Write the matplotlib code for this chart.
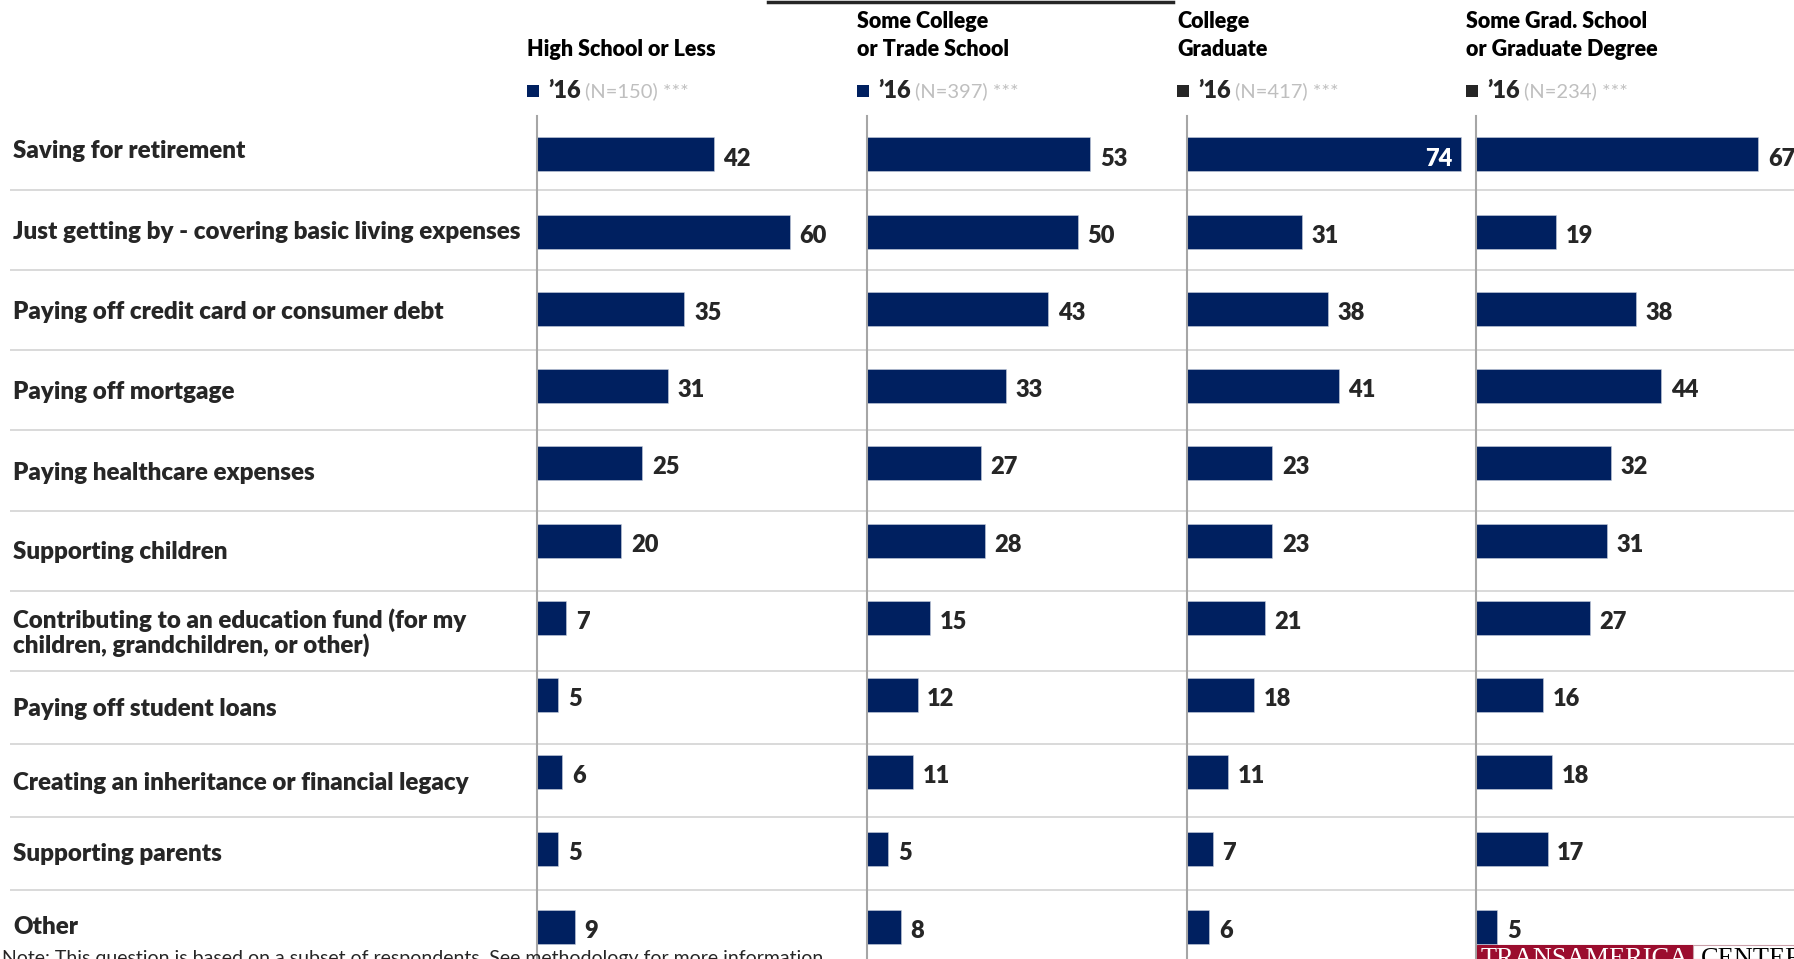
import matplotlib
matplotlib.use("Agg")
import matplotlib.pyplot as plt
from matplotlib.patches import Rectangle
from matplotlib.lines import Line2D

# ---- data -------------------------------------------------------------
categories = [
    "Saving for retirement",
    "Just getting by - covering basic living expenses",
    "Paying off credit card or consumer debt",
    "Paying off mortgage",
    "Paying healthcare expenses",
    "Supporting children",
    "Contributing to an education fund (for my\nchildren, grandchildren, or other)",
    "Paying off student loans",
    "Creating an inheritance or financial legacy",
    "Supporting parents",
    "Other",
]
groups = [
    "High School or Less",
    "Some College\nor Trade School",
    "College\nGraduate",
    "Some Grad. School\nor Graduate Degree",
]
sample_sizes = [150, 397, 417, 234]
high_school = [42, 60, 35, 31, 25, 20, 7, 5, 6, 5, 9]
some_college = [53, 50, 43, 33, 27, 28, 15, 12, 11, 5, 8]
college_grad = [74, 31, 38, 41, 23, 23, 21, 18, 11, 7, 6]
grad_school = [67, 19, 38, 44, 32, 31, 27, 16, 18, 17, 5]
series = [high_school, some_college, college_grad, grad_school]

# ---- style ------------------------------------------------------------
NAVY = "#002060"
DARK = "#262626"
LIGHT = "#bfbfbf"
GRID = "#d9d9d9"
AXIS = "#a6a6a6"
FONT = "Lato"
WEIGHT = "heavy"
plt.rcParams["font.family"] = [FONT, "DejaVu Sans"]

W, H = 1794, 959
fig = plt.figure(figsize=(W / 100, H / 100), dpi=100)
fig.patch.set_facecolor("white")


def fx(x):
    return x / W


def fy(y):
    return 1 - y / H


# panel geometry (pixels)
lefts = [537, 867, 1187, 1476]
rights = [867, 1187, 1476, 1794]
px_per_unit = [4.21, 4.21, 3.70, 4.21]
square_colors = [NAVY, NAVY, DARK, DARK]
axis_top, axis_bottom = 116, 959
row0, row_step = 154.5, 77.2
bar_px = 34

# row separators
sep_y = [190, 270, 350, 430, 511, 591, 671, 744, 817, 890]
for y in sep_y:
    fig.add_artist(Line2D([fx(11), 1], [fy(y), fy(y)], color=GRID, lw=1.4,
                          zorder=-1))

# category labels
label_y = [151, 232, 312, 392, 473, 552, 633, 709, 783, 854, 927]
for text, y in zip(categories, label_y):
    fig.text(fx(13), fy(y), text, fontsize=17.4, fontweight=WEIGHT,
             color=DARK, ha="left", va="center", linespacing=1.08)

n = len(categories)
for k, (vals, grp) in enumerate(zip(series, groups)):
    l, r, ppu = lefts[k], rights[k], px_per_unit[k]
    ax = fig.add_axes([fx(l), fy(axis_bottom), (r - l) / W,
                       (axis_bottom - axis_top) / H])
    ax.set_facecolor("none")
    ax.set_xlim(0, (r - l) / ppu)
    ax.set_ylim((axis_bottom - row0) / row_step, (axis_top - row0) / row_step)
    ax.barh(range(n), vals, height=bar_px / row_step, color=NAVY,
            edgecolor="#c8cfdc", linewidth=0.4, zorder=2)
    for s in ("top", "right", "bottom"):
        ax.spines[s].set_visible(False)
    ax.spines["left"].set_color(AXIS)
    ax.spines["left"].set_linewidth(1.5)
    ax.spines["left"].set_zorder(3)
    ax.set_xticks([])
    ax.set_yticks([])
    for i, v in enumerate(vals):
        if v >= 70:
            ax.annotate(str(v), (v, i), xytext=(-6, -3),
                        textcoords="offset points", ha="right", va="center",
                        fontsize=17, fontweight=WEIGHT, color="white",
                        zorder=4)
        else:
            ax.annotate(str(v), (v, i), xytext=(7, -3),
                        textcoords="offset points", ha="left", va="center",
                        fontsize=17, fontweight=WEIGHT, color=DARK,
                        annotation_clip=False, zorder=4)

    # group header
    hx = l - 10
    lines = grp.split("\n")
    if len(lines) == 1:
        fig.text(fx(hx), fy(50), lines[0], fontsize=15.5, fontweight=WEIGHT,
                 color="black", ha="left", va="center")
    else:
        fig.text(fx(hx), fy(22), lines[0], fontsize=15.5, fontweight=WEIGHT,
                 color="black", ha="left", va="center")
        fig.text(fx(hx), fy(49), lines[1], fontsize=15.5, fontweight=WEIGHT,
                 color="black", ha="left", va="center")

    # legend row
    fig.add_artist(Rectangle((fx(hx), fy(97)), 12 / W, 12 / H,
                             facecolor=square_colors[k], edgecolor="none"))
    t1 = fig.text(fx(hx + 21), fy(91), "\u201916", fontsize=17,
                  fontweight=WEIGHT, color=DARK, ha="left", va="center")
    fig.canvas.draw()
    bb = t1.get_window_extent()
    fig.text((bb.x1 + 4) / W, fy(91), f"(N={sample_sizes[k]}) ***",
             fontsize=14.5, color=LIGHT, ha="left", va="center")

# title rule at the top
fig.add_artist(Line2D([fx(768), fx(1173)], [fy(1.5), fy(1.5)], color=DARK,
                      lw=2.5))

# footnote (runs off the bottom edge)
fig.text(fx(2), fy(950), "Note: This question is based on a subset of "
         "respondents. See methodology for more information",
         fontsize=14, color=DARK, ha="left", va="top")

# logo block in the lower right corner
fig.add_artist(Rectangle((fx(1477), 0), (1693 - 1477) / W, (959 - 945) / H,
                         facecolor="#9b0d2e", edgecolor="#9b0d2e", lw=0.8))
fig.add_artist(Rectangle((fx(1693), 0), (W - 1693) / W, (959 - 945) / H,
                         facecolor="white", edgecolor="#c9a0aa", lw=0.8))
fig.text(fx(1481), fy(948), "TRANSAMERICA", family="Liberation Serif",
         fontsize=19, color="white", ha="left", va="top")
fig.text(fx(1701), fy(948), "CENTER", family="Liberation Serif",
         fontsize=19, color="black", ha="left", va="top")

fig.savefig("out.png", dpi=100, facecolor="white")
